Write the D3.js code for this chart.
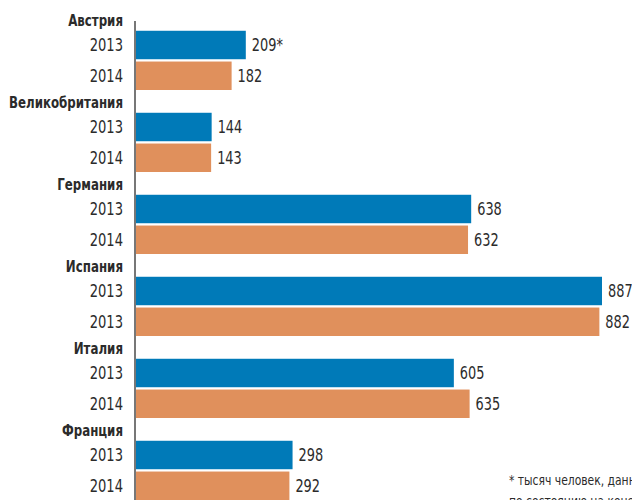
<!DOCTYPE html>
<html>
<head>
<meta charset="utf-8">
<script src="https://cdn.jsdelivr.net/npm/d3@7"></script>
<style>
    body { margin: 0; background: #fff; }
    svg text { font-family: "DejaVu Sans", sans-serif; fill: #2b2b2b; }
</style>
</head>
<body>
<script>
// chart data
const countries = ['Австрия', 'Великобритания', 'Германия', 'Испания', 'Италия', 'Франция'];
const firstYearLabels = ['2013', '2013', '2013', '2013', '2013', '2013'];
const secondYearLabels = ['2014', '2014', '2014', '2013', '2014', '2014'];
const firstValues = [209, 144, 638, 887, 605, 298];
const secondValues = [182, 143, 632, 882, 635, 292];
const firstValueLabels = ['209*', '144', '638', '887', '605', '298'];
const footnote = ['* тысяч человек, данные', 'по состоянию на конец года'];

drawBars();

/*
 * No narrow font is installed, so labels are squeezed horizontally to get
 * the condensed look of the original.
 */
function place(x, y, sx)
{
    return `translate(${x}, ${y}) scale(${sx}, 1)`;
}

function drawBars()
{
    const svgWidth = 632;
    const svgHeight = 500;

    const svg = d3.select('body')
        .append('svg')
        .attr('width', svgWidth)
        .attr('height', svgHeight);

    const x = d3.scaleLinear()
        .domain([0, d3.max(firstValues)])
        .range([136, 602]);

    // one band per country: a label row and two bars
    const groupY = d3.scaleBand()
        .domain(countries)
        .range([8, 8 + countries.length * 82]);

    const rowY = d3.scaleBand()
        .domain(['label', 'first', 'second'])
        .range([-8, 82])
        .paddingInner(0.075)
        .paddingOuter(0);

    const rows = countries.map((c, i) => ({
        country: c,
        series: [
            {key: 'first', year: firstYearLabels[i], value: firstValues[i], text: firstValueLabels[i], color: '#007ab8'},
            {key: 'second', year: secondYearLabels[i], value: secondValues[i], text: String(secondValues[i]), color: '#e0905c'}
        ]
    }));

    const groups = svg.selectAll('g.group')
        .data(rows)
        .enter()
        .append('g')
        .attr('class', 'group')
        .attr('transform', d => `translate(0, ${groupY(d.country)})`);

    groups.append('text')
        .attr('transform', place(123, 18, 0.74))
        .attr('text-anchor', 'end')
        .attr('font-size', 16)
        .attr('font-weight', 'bold')
        .text(d => d.country);

    const bars = groups.selectAll('g.bar')
        .data(d => d.series)
        .enter()
        .append('g')
        .attr('class', 'bar');

    bars.append('rect')
        .attr('x', x(0))
        .attr('y', d => rowY(d.key))
        .attr('width', d => x(d.value) - x(0))
        .attr('height', rowY.bandwidth())
        .attr('fill', d => d.color);

    bars.append('text')
        .attr('transform', d => place(123, rowY(d.key) + rowY.bandwidth() / 2, 0.77))
        .attr('dy', '0.36em')
        .attr('text-anchor', 'end')
        .attr('font-size', 17)
        .text(d => d.year);

    bars.append('text')
        .attr('transform', d => place(x(d.value) + 6, rowY(d.key) + rowY.bandwidth() / 2, 0.76))
        .attr('dy', '0.36em')
        .attr('font-size', 17)
        .text(d => d.text);

    // vertical axis line
    svg.append('line')
        .attr('x1', 135)
        .attr('x2', 135)
        .attr('y1', 21)
        .attr('y2', svgHeight)
        .attr('stroke', '#777')
        .attr('stroke-width', 2);

    svg.append('text')
        .attr('transform', place(509, 485, 0.77))
        .attr('font-size', 14)
        .selectAll('tspan')
        .data(footnote)
        .enter()
        .append('tspan')
        .attr('x', 0)
        .attr('dy', (d, i) => i === 0 ? 0 : 21)
        .text(d => d);
}
</script>
</body>
</html>
